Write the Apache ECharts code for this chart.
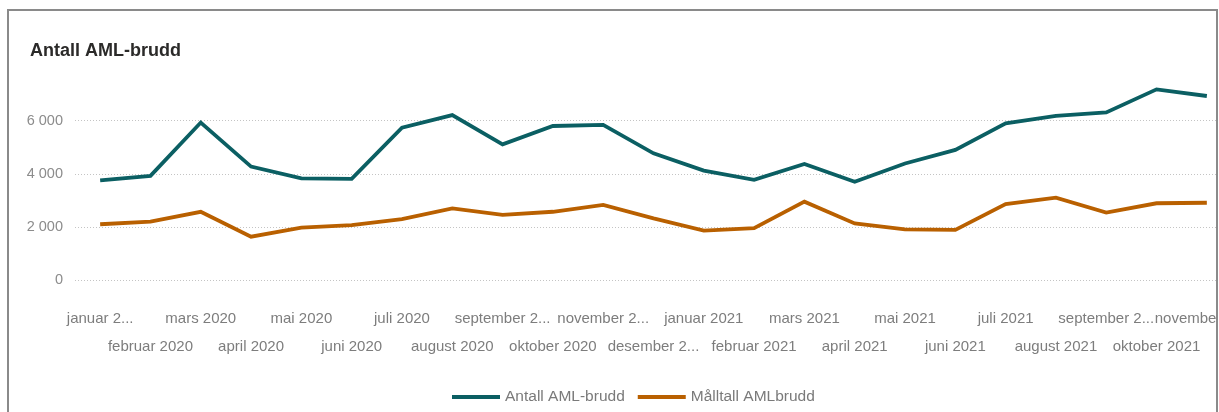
<!DOCTYPE html>
<html>
<head>
<meta charset="utf-8">
<title>Antall AML-brudd</title>
<script src="https://cdn.jsdelivr.net/npm/echarts@6/dist/echarts.min.js"></script>
<style>
  html, body { margin: 0; padding: 0; background: #ffffff; overflow: hidden; }
  #chart { width: 1219px; height: 412px; }
</style>
</head>
<body>
<div id="chart"></div>
<script>
// Monthly periods, January 2020 – November 2021
const months = [
  'januar 2020', 'februar 2020', 'mars 2020', 'april 2020', 'mai 2020', 'juni 2020',
  'juli 2020', 'august 2020', 'september 2020', 'oktober 2020', 'november 2020', 'desember 2020',
  'januar 2021', 'februar 2021', 'mars 2021', 'april 2021', 'mai 2021', 'juni 2021',
  'juli 2021', 'august 2021', 'september 2021', 'oktober 2021', 'november 2021'
];

// Axis text as it is printed under each month (long names are shortened)
const monthTickLabels = [
  'januar 2...', 'februar 2020', 'mars 2020', 'april 2020', 'mai 2020', 'juni 2020',
  'juli 2020', 'august 2020', 'september 2...', 'oktober 2020', 'november 2...', 'desember 2...',
  'januar 2021', 'februar 2021', 'mars 2021', 'april 2021', 'mai 2021', 'juni 2021',
  'juli 2021', 'august 2021', 'september 2...', 'oktober 2021', 'november 2021'
];

// Registered breaches per month
const antallBrudd = [
  3750, 3920, 5930, 4270, 3830, 3810,
  5740, 6210, 5110, 5800, 5840, 4770,
  4120, 3770, 4370, 3700, 4390, 4900,
  5900, 6180, 6310, 7180, 6930
];

// Monthly target figures
const maltallBrudd = [
  2100, 2200, 2570, 1630, 1970, 2070,
  2290, 2700, 2450, 2570, 2830, 2320,
  1860, 1950, 2950, 2130, 1910, 1890,
  2860, 3100, 2540, 2890, 2910
];

const seriesNames = ['Antall AML-brudd', 'Målltall AMLbrudd'];
const yTicks = { min: 0, max: 8000, step: 2000 };

const FONT = '"Liberation Sans", "DejaVu Sans", sans-serif';
const BLUE = '#0b5f63';
const ORANGE = '#b96000';

const chart = echarts.init(document.getElementById('chart'), null, { renderer: 'canvas' });

chart.setOption({
  animation: false,
  backgroundColor: '#ffffff',
  textStyle: { fontFamily: FONT },
  title: {
    text: 'Antall AML-brudd',
    left: 25,
    top: 37,
    textStyle: {
      fontFamily: FONT,
      fontSize: 18,
      fontWeight: 'bold',
      color: '#2b2a29'
    }
  },
  legend: {
    top: 384,
    left: 447,
    icon: 'rect',
    itemWidth: 48,
    itemHeight: 4,
    itemGap: 13,
    data: seriesNames,
    textStyle: { fontFamily: FONT, fontSize: 15.5, color: '#7a7a7a' }
  },
  graphic: [{
    type: 'polyline',
    silent: true,
    z: 100,
    shape: { points: [[8, 420], [8, 10], [1217, 10], [1217, 420]] },
    style: { stroke: '#8a8a8a', lineWidth: 2, fill: null }
  }, {
    type: 'rect',
    silent: true,
    z: 99,
    shape: { x: 1218, y: 11, width: 10, height: 410 },
    style: { fill: '#ffffff' }
  }],
  grid: {
    left: 75,
    width: 1157,
    top: 67.6,
    bottom: 132,
    outerBoundsMode: 'none',
    containLabel: false
  },
  xAxis: {
    type: 'category',
    data: months,
    boundaryGap: true,
    axisLine: { show: false },
    axisTick: { show: false },
    axisLabel: {
      interval: 0,
      margin: 25,
      fontFamily: FONT,
      fontSize: 15,
      lineHeight: 28,
      color: '#7d7d7d',
      formatter: function (value, index) {
        const text = monthTickLabels[index];
        return index % 2 === 1 ? '\n' + text : text;
      }
    }
  },
  yAxis: {
    type: 'value',
    min: yTicks.min,
    max: yTicks.max,
    interval: yTicks.step,
    axisLine: { show: false },
    axisTick: { show: false },
    axisLabel: {
      margin: 12,
      fontFamily: FONT,
      fontSize: 14.5,
      color: '#8c8c8c',
      showMaxLabel: false,
      formatter: function (v) {
        return String(v).replace(/\B(?=(\d{3})+(?!\d))/g, ' ');
      }
    },
    splitLine: {
      show: true,
      showMaxLine: false,
      lineStyle: { color: '#c4c4c4', type: [1, 2], width: 1 }
    }
  },
  series: [
    {
      name: seriesNames[0],
      type: 'line',
      data: antallBrudd,
      symbol: 'none',
      color: BLUE,
      lineStyle: { width: 3.8, color: BLUE, join: 'miter' }
    },
    {
      name: seriesNames[1],
      type: 'line',
      data: maltallBrudd,
      symbol: 'none',
      color: ORANGE,
      lineStyle: { width: 3.8, color: ORANGE, join: 'miter' }
    }
  ]
});
</script>
</body>
</html>
